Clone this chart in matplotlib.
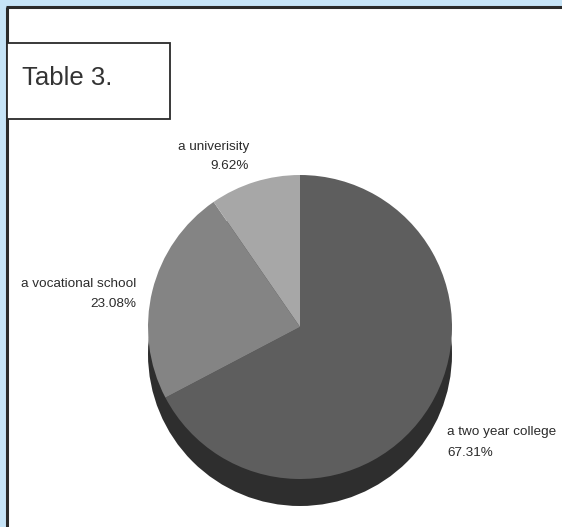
import matplotlib
matplotlib.use("Agg")
import matplotlib.pyplot as plt
from matplotlib.patches import Rectangle, Circle

# Survey shares by destination
categories = ["a two year college", "a vocational school", "a univerisity"]
shares = [67.31, 23.08, 9.62]
slice_colors = ["#5e5e5e", "#848484", "#a7a7a7"]
side_color = "#2e2e2e"
title_text = "Table 3."

W, H = 562, 527
fig = plt.figure(figsize=(W / 100, H / 100), dpi=100)
fig.patch.set_facecolor("#c6e4f7")
ax = fig.add_axes([0, 0, 1, 1])

font = ["Liberation Sans", "DejaVu Sans"]

def Y(y_top):
    return H - y_top

# white panel with dark left/top border
ax.add_patch(Rectangle((6.5, 0), W, Y(6.5), facecolor="white", edgecolor="none", zorder=0))
ax.plot([7, 7], [0, Y(6.5)], color="#2a2a2a", lw=2.2, solid_capstyle="butt", zorder=1)
ax.plot([6, W], [Y(7), Y(7)], color="#2a2a2a", lw=2.2, solid_capstyle="butt", zorder=1)

# caption box
ax.add_patch(Rectangle((7, Y(119)), 163, 76, facecolor="white", edgecolor="#2a2a2a", lw=1.3, zorder=2))
ax.text(22, Y(85), title_text, fontsize=18.5, family=font, color="#333333",
        ha="left", va="baseline", zorder=3)

# pie: dark extruded side, then the top face
cx, cy, R, depth = 300, Y(327), 152, 27
ax.add_patch(Circle((cx, cy - depth), R, facecolor=side_color, edgecolor="none", zorder=1))
ax.pie(shares, colors=slice_colors, startangle=90, counterclock=False,
       center=(cx, cy), radius=R, wedgeprops=dict(linewidth=0.3, edgecolor="none"), frame=True)

# slice labels
label_fs = 9.7
label_color = "#2b2b2b"
label_layout = [
    (447, 435, 456, "left"),   # two year college
    (136, 287, 307, "right"),  # vocational school
    (249, 150, 169, "right"),  # university
]
for name, val, (x, y1, y2, ha) in zip(categories, shares, label_layout):
    ax.text(x, Y(y1), name, fontsize=label_fs, family=font, color=label_color,
            ha=ha, va="baseline", zorder=5)
    ax.text(x, Y(y2), f"{val:.2f}%", fontsize=label_fs, family=font, color=label_color,
            ha=ha, va="baseline", zorder=5)

ax.set_xlim(0, W)
ax.set_ylim(0, H)
ax.set_aspect("auto")
ax.axis("off")

fig.savefig("out.png", dpi=100, facecolor=fig.get_facecolor())
